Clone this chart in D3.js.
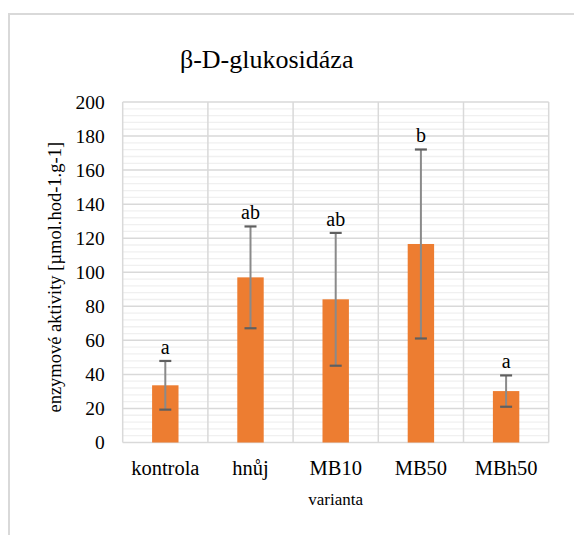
<!DOCTYPE html>
<html><head><meta charset="utf-8">
<script src="https://cdn.jsdelivr.net/npm/d3@7"></script>
<style>body{margin:0;background:#fff}svg{display:block}</style>
</head><body><svg id="c" width="574" height="535"></svg>
<script>
const FONT = "'Liberation Serif', 'Times New Roman', Times, serif";
const categories = ["kontrola","hnůj","MB10","MB50","MBh50"];
const values = [33.6, 97.0, 84.1, 116.6, 30.2];
const errors = [14.3, 29.9, 39.0, 55.5, 9.2];
const letters = ["a","ab","ab","b","a"];
const yTicks = [0,20,40,60,80,100,120,140,160,180,200];
const title = "β-D-glukosidáza";
const xTitle = "varianta";
const yTitle = "enzymové aktivity [µmol.hod-1.g-1]";

const svg = d3.select("#c").attr("font-family", FONT);
const L = 122.7, R = 548.7, T = 102, B = 442.5;

svg.append("path").attr("d","M9,536 V14 H575").attr("fill","none").attr("stroke","#d9d9d9").attr("stroke-width",2);

const x = d3.scaleBand().domain(categories).range([L,R]).padding(0);
const y = d3.scaleLinear().domain([0,200]).range([B,T]);

const minor = d3.range(0,201,4).filter(v=>v%20!==0);
svg.append("g").selectAll("line").data(minor).join("line")
  .attr("x1",L).attr("x2",R).attr("y1",d=>y(d)).attr("y2",d=>y(d))
  .attr("stroke","#f0f0f0").attr("stroke-width",1.3);
svg.append("g").selectAll("line").data(yTicks).join("line")
  .attr("x1",L).attr("x2",R).attr("y1",d=>y(d)).attr("y2",d=>y(d))
  .attr("stroke","#d9d9d9").attr("stroke-width",1.5);
const edges = categories.map(c=>x(c)).concat([R]);
svg.append("g").selectAll("line").data(edges).join("line")
  .attr("x1",d=>d).attr("x2",d=>d).attr("y1",T).attr("y2",B)
  .attr("stroke","#d9d9d9").attr("stroke-width",1.5);

const bw = x.bandwidth()*0.31;
svg.append("g").selectAll("rect").data(categories).join("rect")
  .attr("x",(d)=>x(d)+x.bandwidth()/2-bw/2).attr("width",bw)
  .attr("y",(d,i)=>y(values[i])).attr("height",(d,i)=>B-y(values[i]))
  .attr("fill","#ED7D31");

const eg = svg.append("g");
categories.forEach((c,i)=>{
  const cx = x(c)+x.bandwidth()/2;
  const lo = y(values[i]-errors[i]), hi = y(values[i]+errors[i]);
  eg.append("line").attr("x1",cx).attr("x2",cx).attr("y1",lo).attr("y2",hi).attr("stroke","#8a8a8a").attr("stroke-width",2);
  [lo,hi].forEach(yy=>eg.append("line").attr("x1",cx-6).attr("x2",cx+6).attr("y1",yy).attr("y2",yy).attr("stroke","#5f5f5f").attr("stroke-width",2.2));
  svg.append("text").attr("x",cx).attr("y",hi-7)
    .attr("text-anchor","middle").attr("font-size",20).attr("font-family",FONT).attr("fill","#000").text(letters[i]);
});

const ya = svg.append("g").attr("transform",`translate(${L},0)`).call(d3.axisLeft(y).tickValues(yTicks).tickSize(0).tickPadding(18));
ya.attr("font-family",FONT).attr("font-size",19.5);
ya.select(".domain").remove();
ya.selectAll("text").attr("dy","0.33em").attr("fill","#000");

const xa = svg.append("g").attr("transform",`translate(0,${B})`).call(d3.axisBottom(x).tickSize(0).tickPadding(0));
xa.attr("font-family",FONT).attr("font-size",20.5);
xa.select(".domain").remove();
xa.selectAll("text").attr("y",32.5).attr("dy",null).attr("fill","#000");

svg.append("text").attr("x",266.7).attr("y",68).attr("text-anchor","middle").attr("font-size",26).attr("font-family",FONT).attr("fill","#000").text(title);
svg.append("text").attr("x",(L+R)/2).attr("y",505).attr("text-anchor","middle").attr("font-size",17).attr("font-family",FONT).attr("fill","#000").text(xTitle);
svg.append("text").attr("transform",`translate(61,${(T+B)/2+5}) rotate(-90)`).attr("text-anchor","middle").attr("font-size",18.5).attr("font-family",FONT).attr("fill","#000").text(yTitle);
</script></body></html>
